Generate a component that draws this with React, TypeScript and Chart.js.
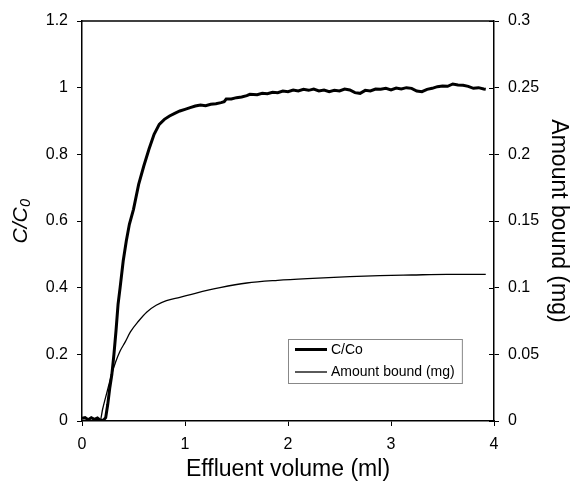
import React, { useEffect, useRef } from "react";
import { Chart, registerables } from "chart.js";

Chart.register(...registerables);

// C/C0 breakthrough curve (left axis)
const ccoX = [0, 0.03, 0.06, 0.09, 0.12, 0.15, 0.18, 0.21, 0.23, 0.25, 0.27, 0.29, 0.31, 0.33, 0.35, 0.37, 0.4, 0.43, 0.46, 0.5, 0.55, 0.6, 0.65, 0.7, 0.75, 0.8, 0.85, 0.9, 0.95, 1.0, 1.05, 1.1, 1.15, 1.2, 1.25, 1.3, 1.35, 1.38, 1.4, 1.45, 1.5, 1.55, 1.6, 1.63, 1.7, 1.75, 1.8, 1.85, 1.9, 1.95, 2.0, 2.05, 2.1, 2.15, 2.2, 2.25, 2.3, 2.35, 2.4, 2.45, 2.5, 2.55, 2.6, 2.65, 2.7, 2.75, 2.8, 2.85, 2.9, 2.95, 3.0, 3.05, 3.1, 3.15, 3.2, 3.25, 3.3, 3.35, 3.4, 3.45, 3.5, 3.55, 3.6, 3.65, 3.7, 3.75, 3.8, 3.85, 3.9, 3.92];
const ccoY = [0.008, 0.01, 0.004, 0.01, 0.005, 0.009, 0.002, 0.003, 0.01, 0.05, 0.1, 0.14, 0.2, 0.27, 0.35, 0.4, 0.48, 0.54, 0.59, 0.635, 0.71, 0.765, 0.815, 0.86, 0.89, 0.905, 0.915, 0.923, 0.93, 0.935, 0.94, 0.945, 0.948, 0.946, 0.95, 0.952, 0.955, 0.958, 0.966, 0.966, 0.97, 0.972, 0.976, 0.98, 0.979, 0.983, 0.982, 0.986, 0.985, 0.99, 0.988, 0.993, 0.99, 0.995, 0.992, 0.996, 0.99, 0.993, 0.988, 0.992, 0.99, 0.996, 0.993, 0.985, 0.983, 0.992, 0.99, 0.996, 0.995, 0.998, 0.993, 0.999, 0.996, 1.0, 0.998, 0.99, 0.988, 0.995, 0.998, 1.003, 1.005, 1.004, 1.011, 1.008, 1.007, 1.004, 0.998, 1.0, 0.996, 0.995];

// Amount bound (mg) (right axis)
const boundX = [0, 0.175, 0.2, 0.25, 0.29, 0.33, 0.37, 0.42, 0.47, 0.55, 0.63, 0.72, 0.82, 0.95, 1.1, 1.34, 1.6, 1.9, 2.24, 2.6, 2.89, 3.2, 3.54, 3.92];
const boundY = [0, 0, 0.0088, 0.0238, 0.0355, 0.045, 0.0525, 0.0593, 0.0668, 0.075, 0.0818, 0.0868, 0.0903, 0.0928, 0.0958, 0.1, 0.1035, 0.1055, 0.107, 0.1083, 0.109, 0.1095, 0.11, 0.11];

const seriesLabels = ["C/Co", "Amount bound (mg)"];
const xTitle = "Effluent volume (ml)";
const yTitle = "C/C\u2080";
const y1Title = "Amount bound (mg)";

const FONT = "'Liberation Sans', Arial, Helvetica, sans-serif";

const fmt = (v: any) => String(Number(Number(v).toFixed(3)));

const framePlugin = {
  id: "frame",
  afterDraw(chart: any) {
    const { ctx, chartArea } = chart;
    const { left, right, top, bottom } = chartArea;
    ctx.save();
    ctx.strokeStyle = "#000";
    ctx.lineWidth = 1.5;
    ctx.beginPath();
    ctx.moveTo(left, top);
    ctx.lineTo(right, top);
    ctx.stroke();
    // inner half of right-axis ticks (cross ticks)
    const y1 = chart.scales.y1;
    ctx.lineWidth = 1;
    y1.ticks.forEach((t: any) => {
      const py = Math.round(y1.getPixelForValue(t.value)) + 0.5;
      ctx.beginPath();
      ctx.moveTo(right - 5, py);
      ctx.lineTo(right, py);
      ctx.stroke();
    });

    // legend box
    const w = right - left;
    const h = bottom - top;
    const lx = left + 0.5 * w;
    const ly = top + 0.795 * h;
    const lw = 0.422 * w;
    const lh = 0.11 * h;
    ctx.fillStyle = "#fff";
    ctx.fillRect(lx, ly, lw, lh);
    ctx.strokeStyle = "#888";
    ctx.lineWidth = 1;
    ctx.strokeRect(Math.round(lx) + 0.5, Math.round(ly) + 0.5, lw, lh);
    const rows = [
      { label: seriesLabels[0], width: 3, y: ly + 10.5 },
      { label: seriesLabels[1], width: 1.3, y: ly + 33 },
    ];
    ctx.font = `14px ${FONT}`;
    ctx.textBaseline = "middle";
    ctx.textAlign = "left";
    rows.forEach((r) => {
      ctx.strokeStyle = "#000";
      ctx.lineWidth = r.width;
      ctx.beginPath();
      ctx.moveTo(lx + 7, r.y);
      ctx.lineTo(lx + 39, r.y);
      ctx.stroke();
      ctx.fillStyle = "#000";
      ctx.fillText(r.label, lx + 43, r.y + 0.5);
    });
    ctx.restore();
  },
};

export default function App() {
  const ref = useRef<HTMLCanvasElement | null>(null);

  useEffect(() => {
    if (!ref.current) return;
    const chart = new Chart(ref.current, {
      type: "line",
      data: {
        datasets: [
          {
            label: seriesLabels[0],
            data: ccoX.map((x, i) => ({ x, y: ccoY[i] })),
            borderColor: "#000",
            borderWidth: 3,
            pointRadius: 0,
            tension: 0,
            yAxisID: "y",
          },
          {
            label: seriesLabels[1],
            data: boundX.map((x, i) => ({ x, y: boundY[i] })),
            borderColor: "#000",
            borderWidth: 1.3,
            pointRadius: 0,
            cubicInterpolationMode: "monotone",
            yAxisID: "y1",
          },
        ],
      },
      options: {
        animation: false,
        responsive: true,
        maintainAspectRatio: false,
        layout: { padding: { top: 21, left: 0, right: 0, bottom: 0 } },
        plugins: {
          legend: { display: false },
          tooltip: { enabled: false },
        },
        scales: {
          x: {
            type: "linear",
            min: 0,
            max: 4,
            ticks: {
              stepSize: 1,
              color: "#000",
              font: { family: FONT, size: 16 },
              padding: 9,
              callback: fmt,
            },
            grid: { drawOnChartArea: false, drawTicks: true, tickLength: 5, color: "#000" },
            border: { color: "#000", width: 1.5 },
            title: {
              display: true,
              text: xTitle,
              color: "#000",
              font: { family: FONT, size: 23 },
              padding: { top: 0, bottom: 6 },
            },
            afterFit: (s: any) => {
              s.height = 68;
            },
          },
          y: {
            type: "linear",
            position: "left",
            min: 0,
            max: 1.2,
            ticks: {
              stepSize: 0.2,
              color: "#000",
              font: { family: FONT, size: 16 },
              padding: 9,
              callback: fmt,
            },
            grid: { drawOnChartArea: false, drawTicks: true, tickLength: 5, color: "#000" },
            border: { color: "#000", width: 1.5 },
            title: {
              display: true,
              text: yTitle,
              color: "#000",
              font: { family: FONT, size: 21, style: "italic" },
              padding: { top: 9, bottom: 0 },
            },
            afterFit: (s: any) => {
              s.width = 82;
            },
          },
          y1: {
            type: "linear",
            position: "right",
            min: 0,
            max: 0.3,
            ticks: {
              stepSize: 0.05,
              color: "#000",
              font: { family: FONT, size: 16 },
              padding: 9,
              callback: fmt,
            },
            grid: { drawOnChartArea: false, drawTicks: true, tickLength: 5, color: "#000" },
            border: { color: "#000", width: 1.5 },
            title: {
              display: true,
              text: y1Title,
              color: "#000",
              font: { family: FONT, size: 23, lineHeight: 1 },
              padding: { top: 0, bottom: 0 },
            },
            afterFit: (s: any) => {
              s.width = 76;
            },
          },
        },
      },
      plugins: [framePlugin],
    } as any);
    return () => chart.destroy();
  }, []);

  return (
    <div style={{ position: "absolute", left: 0, top: 0, width: 570, height: 489, background: "#fff" }}>
      <canvas ref={ref} />
    </div>
  );
}
